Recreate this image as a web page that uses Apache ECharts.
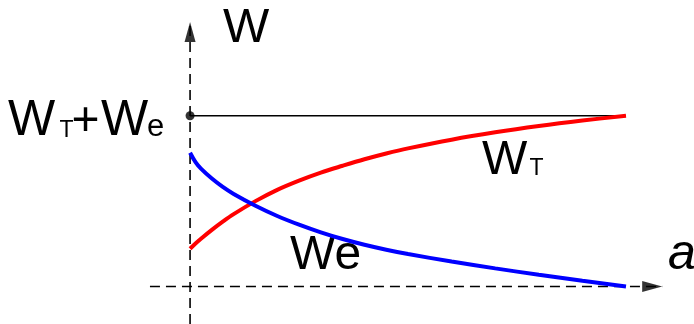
<!DOCTYPE html>
<html>
<head>
<meta charset="utf-8">
<script src="https://cdn.jsdelivr.net/npm/echarts@6/dist/echarts.min.js"></script>
<style>
  html, body { margin: 0; padding: 0; background: #ffffff; }
  #chart { width: 694px; height: 324px; }
</style>
</head>
<body>
<div id="chart"></div>
<script>
// Normalised crack length a and the two energy components (their sum is the total level 1)
const aValues  = [0, 0.0125, 0.025, 0.05, 0.075, 0.1, 0.15, 0.2, 0.25, 0.3, 0.35, 0.4, 0.45, 0.5, 0.6, 0.7, 0.8, 0.9, 1.0];
const thermalW = [0.221, 0.252, 0.280, 0.332, 0.380, 0.424, 0.500, 0.566, 0.620, 0.667, 0.707, 0.745, 0.779, 0.809, 0.860, 0.903, 0.940, 0.972, 1.0];
const elasticW = [0.783, 0.728, 0.690, 0.632, 0.583, 0.542, 0.473, 0.413, 0.362, 0.317, 0.278, 0.2445, 0.2155, 0.190, 0.146, 0.106, 0.069, 0.034, 0.0];
const totalW = 1.0;

// Drawn extent of the two coordinate axes (data units)
const axisXRange = [-0.092, 1.083];
const axisYRange = [-0.22, 1.549];
// Visible window of the plane
const viewX = [-0.436, 1.156];
const viewY = [-0.2197, 1.678];

const FONT = "'Liberation Sans', Arial, sans-serif";
const DASH = [10, 6];

function pairs(xs, ys) { return xs.map((x, i) => [x, ys[i]]); }

// one text piece placed by its left edge and baseline
function piece(text, left, baseline, size, italic) {
  return {
    type: 'text', silent: true, x: left, y: baseline - 0.3465 * size,
    style: {
      text: text, fill: '#000',
      font: (italic ? 'italic ' : '') + size + 'px ' + FONT,
      align: 'left', verticalAlign: 'middle'
    }
  };
}

const chart = echarts.init(document.getElementById('chart'), null, { renderer: 'canvas' });

chart.setOption({
  animation: false,
  backgroundColor: '#ffffff',
  grid: { left: 0, right: 0, top: 0, bottom: 0 },
  xAxis: { type: 'value', min: viewX[0], max: viewX[1], show: false },
  yAxis: { type: 'value', min: viewY[0], max: viewY[1], show: false },
  series: [
    { // horizontal axis a
      type: 'line', silent: true, symbol: 'none',
      data: [[axisXRange[0], 0], [axisXRange[1], 0]],
      lineStyle: { color: '#000', width: 1.6, type: DASH }
    },
    { // vertical axis W
      type: 'line', silent: true, symbol: 'none',
      data: [[0, axisYRange[0]], [0, axisYRange[1]]],
      lineStyle: { color: '#000', width: 1.6, type: DASH }
    },
    { // arrow heads
      type: 'scatter', silent: true, symbol: 'triangle',
      symbolSize: [11, 20],
      itemStyle: { color: '#000' },
      data: [
        { value: [axisXRange[1], 0], symbolRotate: -90, symbolOffset: [-10, 0] },
        { value: [0, axisYRange[1]], symbolRotate: 0, symbolOffset: [0, 10] }
      ]
    },
    { // total energy level
      type: 'line', silent: true, symbol: 'none',
      data: [[0, totalW], [1, totalW]],
      lineStyle: { color: '#000', width: 1.6 }
    },
    {
      type: 'scatter', silent: true, symbol: 'circle', symbolSize: 9,
      itemStyle: { color: '#000' },
      data: [[0, totalW]]
    },
    { // W_T
      type: 'line', silent: true, symbol: 'none', smooth: 0.35,
      data: pairs(aValues, thermalW),
      lineStyle: { color: '#ff0000', width: 4 }
    },
    { // W_e
      type: 'line', silent: true, symbol: 'none', smooth: 0.35,
      data: pairs(aValues, elasticW),
      lineStyle: { color: '#0000ff', width: 4 }
    }
  ],
  graphic: [
    piece('W', 223, 45, 49),
    // W_T + W_e
    piece('W', 8, 138.5, 50),
    piece('T', 59.5, 138.5, 23),
    piece('+', 71.5, 138.5, 48),
    piece('W', 101, 138.5, 50),
    piece('e', 147, 138.5, 31),
    // W_T
    piece('W', 482, 177, 48),
    piece('T', 529.5, 177, 23),
    // W_e
    piece('We', 290, 272.5, 48),
    // a
    piece('a', 668, 272.5, 50, true)
  ]
});
</script>
</body>
</html>
